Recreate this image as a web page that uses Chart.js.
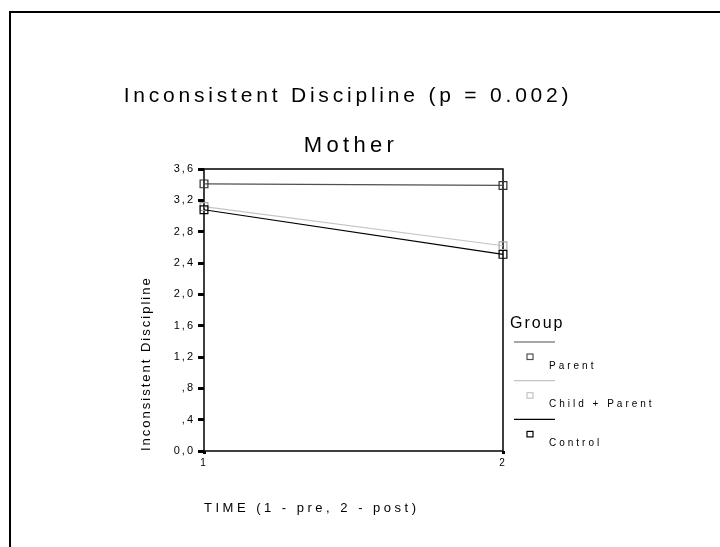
<!DOCTYPE html>
<html>
<head>
<meta charset="utf-8">
<script src="https://cdn.jsdelivr.net/npm/chart.js@4.4.1/dist/chart.umd.min.js"></script>
<style>
  html, body { margin: 0; padding: 0; background: #fff; }
  #wrap { position: relative; width: 720px; height: 547px; }
</style>
</head>
<body>
<div id="wrap"><canvas id="c" width="720" height="547"></canvas></div>
<script>
// ---- data ----
const categories = ['1', '2'];
const seriesNames = ['Parent', 'Child + Parent', 'Control'];
const parentValues = [3.41, 3.39];
const childParentValues = [3.12, 2.62];
const controlValues = [3.08, 2.51];
const yTickValues = [0, 0.4, 0.8, 1.2, 1.6, 2.0, 2.4, 2.8, 3.2, 3.6];
const yTickLabels = ['0,0', ',4', ',8', '1,2', '1,6', '2,0', '2,4', '2,8', '3,2', '3,6'];
const chartTitle = 'Inconsistent Discipline (p = 0.002)';
const chartSubtitle = 'Mother';
const xTitle = 'TIME (1 - pre, 2 - post)';
const yTitle = 'Inconsistent Discipline';
const legendTitle = 'Group';

const seriesColors = ['#505050', '#c4c4c4', '#000000'];
const seriesValues = [parentValues, childParentValues, controlValues];

const FONT = '"Liberation Sans", Arial, sans-serif';
const PAD_LEFT = 135;

const decorPlugin = {
  id: 'decor',
  beforeDraw(chart) {
    const ctx = chart.ctx;
    ctx.save();
    ctx.fillStyle = '#fff';
    ctx.fillRect(0, 0, chart.width, chart.height);
    ctx.fillStyle = '#000';
    ctx.fillRect(9, 11, chart.width - 9, 2);
    ctx.fillRect(9, 11, 2, chart.height - 11);
    ctx.restore();
    ctx.letterSpacing = '2px';
  },
  beforeDatasetsDraw(chart) {
    const ctx = chart.ctx;
    const a = chart.chartArea;
    ctx.save();
    ctx.strokeStyle = '#000';
    ctx.lineWidth = 1.5;
    ctx.strokeRect(a.left, a.top, a.right - a.left, a.bottom - a.top);
    ctx.restore();
  },
  afterDraw(chart) {
    const ctx = chart.ctx;
    const a = chart.chartArea;
    ctx.save();
    ctx.fillStyle = '#000';
    ctx.textBaseline = 'alphabetic';
    // titles
    ctx.letterSpacing = '3.8px';
    ctx.font = '21px ' + FONT;
    ctx.textAlign = 'center';
    ctx.fillText(chartTitle, 348, 102);
    ctx.letterSpacing = '4.3px';
    ctx.font = '22px ' + FONT;
    ctx.fillText(chartSubtitle, 351, 152);
    // x title
    ctx.letterSpacing = '3.5px';
    ctx.font = '13px ' + FONT;
    ctx.textAlign = 'left';
    ctx.fillText(xTitle, a.left, 512);
    // legend
    ctx.letterSpacing = '2px';
    ctx.font = '16px ' + FONT;
    ctx.fillText(legendTitle, 510, 328);
    ctx.font = '10px ' + FONT;
    ctx.letterSpacing = '3px';
    chart.data.datasets.forEach((ds, i) => {
      const y0 = 342 + i * 38.7;
      ctx.strokeStyle = ds.borderColor;
      ctx.lineWidth = 1.2;
      ctx.beginPath();
      ctx.moveTo(514, y0);
      ctx.lineTo(555, y0);
      ctx.stroke();
      ctx.lineWidth = 1.2;
      ctx.strokeRect(527, y0 + 12, 6, 5.5);
      ctx.fillStyle = '#000';
      ctx.fillText(ds.label, 549, y0 + 26.5);
    });
    ctx.restore();
    ctx.letterSpacing = '0px';
  }
};

const datasets = seriesNames.map((name, i) => ({
  label: name,
  data: seriesValues[i],
  borderColor: seriesColors[i],
  borderWidth: 1.2,
  pointStyle: 'rect',
  pointRadius: 5.5,
  pointHoverRadius: 5.5,
  pointBorderWidth: 1.2,
  pointBorderColor: i === 1 ? '#a8a8a8' : (i === 0 ? '#303030' : '#000'),
  pointBackgroundColor: 'rgba(255,255,255,0)',
  tension: 0
}));
// draw Child + Parent beneath the others
datasets[0].order = 1;
datasets[1].order = 3;
datasets[2].order = 2;

new Chart(document.getElementById('c'), {
  type: 'line',
  data: { labels: categories, datasets },
  plugins: [decorPlugin],
  options: {
    responsive: false,
    animation: false,
    events: [],
    layout: { padding: { left: PAD_LEFT, right: 217, top: 169, bottom: 60 } },
    plugins: { legend: { display: false }, title: { display: false }, tooltip: { enabled: false } },
    scales: {
      x: {
        type: 'category',
        offset: false,
        grid: { drawOnChartArea: false, drawTicks: true, tickLength: 3, lineWidth: 3, color: '#000' },
        border: { display: false },
        ticks: { color: '#000', font: { family: FONT, size: 10 }, padding: 3, maxRotation: 0 },
        afterFit(s) { s.height = 547 - 60 - 451; }
      },
      y: {
        min: 0,
        max: 3.6,
        afterBuildTicks(s) { s.ticks = yTickValues.map(v => ({ value: v })); },
        grid: { drawOnChartArea: false, drawTicks: true, tickLength: 6, lineWidth: 3, color: '#000' },
        border: { display: false },
        ticks: {
          color: '#000',
          font: { family: FONT, size: 11 },
          padding: 3,
          callback(v, idx) { return yTickLabels[idx]; }
        },
        title: {
          display: true,
          text: yTitle,
          align: 'start',
          color: '#000',
          font: { family: FONT, size: 13 },
          padding: { top: 4, bottom: 4 }
        },
        afterFit(s) { s.width = 204 - PAD_LEFT; }
      }
    }
  }
});
</script>
</body>
</html>
